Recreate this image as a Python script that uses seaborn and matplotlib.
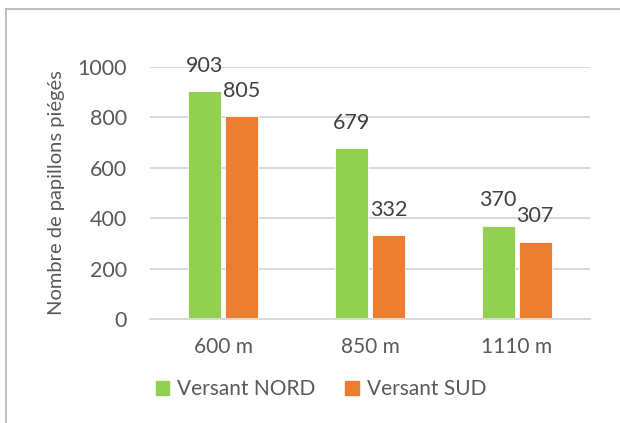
import pandas as pd
import matplotlib
matplotlib.use("Agg")
import matplotlib.pyplot as plt
from matplotlib.patches import Rectangle
import seaborn as sns

altitudes = ["600 m", "850 m", "1110 m"]
versants = ["Versant NORD", "Versant SUD"]
nord = [903, 679, 370]
sud = [805, 332, 307]
yticks = [0, 200, 400, 600, 800, 1000]

df = pd.DataFrame({
    "altitude": altitudes * 2,
    "versant": [versants[0]] * 3 + [versants[1]] * 3,
    "n": nord + sud,
})

sns.set_style("white")
plt.rcParams["font.family"] = ["Lato", "DejaVu Sans"]
palette = {"Versant NORD": "#92D050", "Versant SUD": "#ED7D31"}
txt = "#595959"

fig = plt.figure(figsize=(6.2, 4.23), dpi=100)
ax = fig.add_axes([150 / 620, 1 - 319 / 423, 440 / 620, 252 / 423])

sns.barplot(data=df, x="altitude", y="n", hue="versant", order=altitudes,
            hue_order=versants, palette=palette, width=0.507, gap=0.11,
            saturation=1, edgecolor="white", linewidth=0.6, ax=ax, legend=False)

for c in ax.containers:
    ax.bar_label(c, padding=11, fontsize=15.5, color="#404040")

ax.set_ylim(0, 1000)
ax.set_yticks(yticks)
ax.yaxis.grid(True, color="#D9D9D9", linewidth=1.4)
ax.set_axisbelow(True)
for s in ["top", "right", "left"]:
    ax.spines[s].set_visible(False)
ax.spines["bottom"].set_color("#D9D9D9")
ax.spines["bottom"].set_linewidth(1.4)
ax.tick_params(axis="both", length=0, labelsize=15.5, labelcolor=txt)
ax.tick_params(axis="x", labelsize=15)
ax.tick_params(axis="y", pad=16.5)
ax.tick_params(axis="x", pad=13)
ax.set_xlabel("")
ax.set_ylabel("Nombre de papillons piégés", fontsize=14.5, color=txt, labelpad=9)

handles = [Rectangle((0, 0), 1, 1, color=palette[v]) for v in versants]
fig.legend(handles, versants, loc="center", bbox_to_anchor=(321 / 620, 1 - 389 / 423),
           ncol=2, frameon=False, fontsize=15, labelcolor=txt,
           handlelength=0.65, handleheight=0.65, handletextpad=0.4, columnspacing=1.4)

# cadre du graphique
fig.patches.append(Rectangle((6 / 620, -0.1), 1.1, 1 - 9 / 423 + 0.1, transform=fig.transFigure,
                             fill=False, edgecolor="#BFBFBF", linewidth=1.4))

fig.savefig("out.png", dpi=100)
